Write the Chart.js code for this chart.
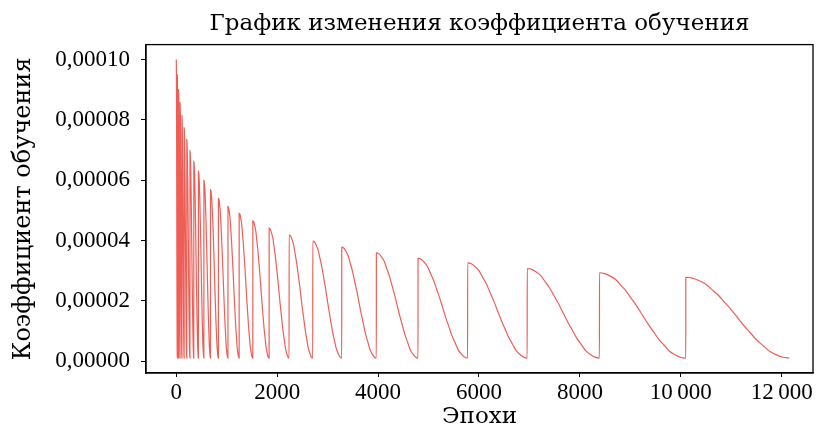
<!DOCTYPE html>
<html lang="ru">
<head>
    <meta charset="UTF-8">
    <title>График изменения коэффициента обучения</title>
    <script src="https://cdn.jsdelivr.net/npm/chart.js"></script>
    <style>
        body {
            margin: 0;
            padding: 0;
            background-color: #fff;
        }

        #chart-container {
            width: 820px;
            height: 430px;
        }
    </style>
</head>
<body>
    <div id="chart-container">
        <canvas id="lrChart"></canvas>
    </div>
    <script>
        // Начало каждого цикла (эпоха рестарта) и пик коэффициента в нём
        const cycleStarts = [0, 21, 46, 76, 113, 157, 209, 272, 348, 439, 548, 679, 836, 1025,
            1247, 1518, 1841, 2237, 2706, 3280, 3966, 4792, 5775, 6956, 8388, 10099];
        const cyclePeaks = [0.000100, 0.0000950, 0.0000900, 0.0000857, 0.0000815, 0.0000774,
            0.0000735, 0.0000698, 0.0000663, 0.0000630, 0.0000599, 0.0000569, 0.0000540,
            0.0000513, 0.0000490, 0.0000465, 0.0000441, 0.0000419, 0.0000398, 0.0000378,
            0.0000359, 0.0000341, 0.0000326, 0.0000307, 0.0000293, 0.0000278];
        const lastEpoch = 12150;
        const minLr = 0.000001;

        // Форма одного цикла: доля длины цикла -> доля высоты пика
        const shapePos = [0, 0.0625, 0.125, 0.1875, 0.25, 0.3125, 0.375, 0.4375, 0.5,
            0.5625, 0.625, 0.6875, 0.75, 0.8125, 0.875, 0.9375, 1];
        const shapeLevel = [1, 0.99, 0.96, 0.92, 0.85, 0.78, 0.69, 0.60, 0.50,
            0.40, 0.31, 0.22, 0.15, 0.08, 0.04, 0.01, 0];

        const xTicks = [0, 2000, 4000, 6000, 8000, 10000, 12000];
        const yTicks = [0, 0.00002, 0.00004, 0.00006, 0.00008, 0.0001];

        // Собираем точки ряда (последняя точка цикла на эпоху раньше рестарта)
        const points = [];
        cycleStarts.forEach((start, i) => {
            const end = i + 1 < cycleStarts.length ? cycleStarts[i + 1] - 1 : lastEpoch;
            shapePos.forEach((p, j) => {
                points.push({
                    x: start + p * (end - start),
                    y: minLr + shapeLevel[j] * (cyclePeaks[i] - minLr)
                });
            });
        });

        const serif = 'Liberation Serif';
        const labelSerif = 'DejaVu Serif';

        // Рамка вокруг области графика
        const frame = {
            id: 'frame',
            afterDraw(chart) {
                const { ctx, chartArea: a } = chart;
                ctx.save();
                ctx.strokeStyle = '#000';
                ctx.lineWidth = 1.3;
                ctx.strokeRect(a.left, a.top, a.right - a.left, a.bottom - a.top);
                ctx.restore();
            }
        };

        new Chart(document.getElementById('lrChart'), {
            type: 'line',
            data: {
                datasets: [{
                    data: points,
                    borderColor: 'rgba(232, 32, 22, 0.72)',
                    borderWidth: 1.2,
                    pointRadius: 0,
                    cubicInterpolationMode: 'monotone',
                    fill: false
                }]
            },
            options: {
                responsive: true,
                maintainAspectRatio: false,
                animation: false,
                layout: {
                    padding: { left: 8, right: 7, top: 0, bottom: 0 }
                },
                plugins: {
                    legend: { display: false },
                    tooltip: { enabled: false },
                    title: {
                        display: true,
                        fullSize: false,
                        text: 'График изменения коэффициента обучения',
                        color: '#000',
                        font: { family: labelSerif, size: 23, weight: 'normal', lineHeight: 1.2 },
                        padding: { top: 10, bottom: 7 }
                    }
                },
                scales: {
                    x: {
                        type: 'linear',
                        min: -600,
                        max: 12620,
                        afterFit(scale) { scale.height = 57; },
                        afterBuildTicks(scale) { scale.ticks = xTicks.map(v => ({ value: v })); },
                        grid: { display: true, drawOnChartArea: false, tickLength: 4, color: '#000', tickWidth: 1 },
                        border: { display: true, color: '#000', width: 1.3 },
                        ticks: {
                            color: '#000',
                            padding: 2,
                            maxRotation: 0,
                            font: { family: serif, size: 23 },
                            callback: v => v >= 10000 ? String(v).replace(/(\d{3})$/, '\u2009$1') : String(v)
                        },
                        title: {
                            display: true,
                            text: 'Эпохи',
                            color: '#000',
                            font: { family: labelSerif, size: 23, lineHeight: 1 },
                            padding: { top: 0, bottom: 1 }
                        }
                    },
                    y: {
                        min: -0.00000395,
                        max: 0.00010495,
                        afterFit(scale) { scale.width = 138; },
                        afterBuildTicks(scale) { scale.ticks = yTicks.map(v => ({ value: v })); },
                        grid: { display: true, drawOnChartArea: false, tickLength: 5, color: '#000', tickWidth: 1 },
                        border: { display: true, color: '#000', width: 1.3 },
                        ticks: {
                            color: '#000',
                            padding: 11,
                            font: { family: serif, size: 23 },
                            callback: v => v.toFixed(5).replace('.', ',')
                        },
                        title: {
                            display: true,
                            text: 'Коэффициент обучения',
                            color: '#000',
                            font: { family: labelSerif, size: 24, lineHeight: 1 },
                            padding: { top: 4, bottom: 0 }
                        }
                    }
                }
            },
            plugins: [frame]
        });
    </script>
</body>
</html>
